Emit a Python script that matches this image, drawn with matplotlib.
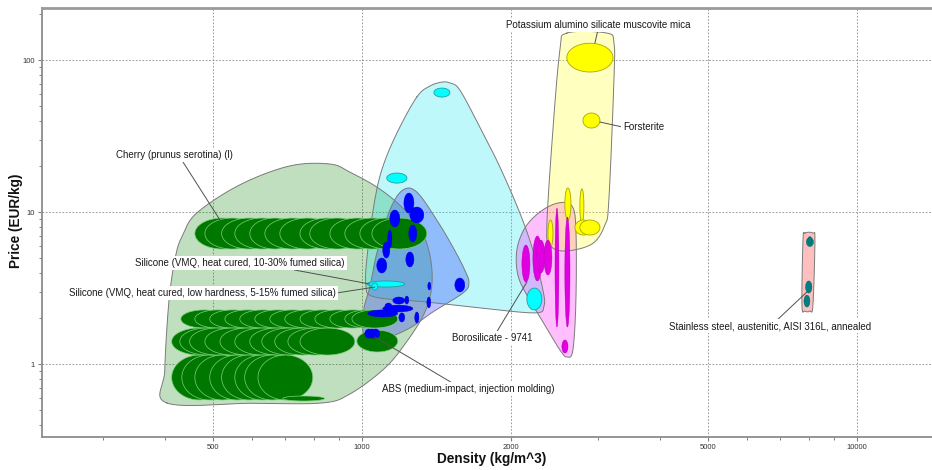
import numpy as np
import matplotlib
matplotlib.use("Agg")
import matplotlib.pyplot as plt
from matplotlib.ticker import FixedLocator, FixedFormatter, NullFormatter

plt.rcParams['font.family'] = ['Liberation Sans', 'DejaVu Sans']

# ---------------- family envelopes (density kg/m^3, price EUR/kg) ----------------
natural_env_rho = [404, 400, 408, 421, 435, 464, 567, 715, 862, 946, 1072, 1193, 1310,
                   1372, 1385, 1341, 1239, 1113, 946, 830, 600]
natural_env_p = [0.554, 0.913, 2.64, 5.21, 7.06, 9.85, 15.1, 20.1, 20.7, 18.3, 14.6, 11.1,
                 7.85, 5.21, 3.31, 2.20, 1.44, 0.94, 0.635, 0.554, 0.552]

elast_env_rho = [1291, 1372, 1451, 1506, 1577, 1731, 1900, 2085, 2215, 2321, 2332,
                 2236, 1731, 1353, 1062, 1019, 1028, 1062, 1102, 1177]
elast_env_p = [57.1, 67.4, 71.6, 70.6, 63.5, 36.2, 19.8, 9.85, 5.62, 3.07, 2.41,
               2.17, 2.34, 2.56, 2.76, 3.31, 5.62, 12.0, 19.8, 33.1]

poly_env_rho = [1014, 1009, 1038, 1072, 1139, 1210, 1291, 1417, 1527, 1614, 1645, 1600,
                1391, 1250, 1113]
poly_env_p = [1.505, 2.27, 3.21, 5.37, 10.31, 13.95, 13.54, 8.86, 5.88, 4.15, 3.41, 2.93,
              2.20, 1.725, 1.48]

glass_env_rho = [2288, 2488, 2656, 2706, 2706, 2668, 2595, 2512, 2342, 2164, 2066, 2056, 2134]
glass_env_p = [10.0, 11.46, 10.95, 7.61, 2.64, 1.236, 1.112, 1.236, 1.805, 2.76, 3.85, 5.62, 7.85]

ceram_env_rho = [2595, 3125, 3229, 3229, 3154, 3096, 2915, 2570, 2397, 2364, 2431, 2512]
ceram_env_p = [150.5, 150.5, 129.4, 73.9, 12.0, 8.21, 6.16, 5.54, 6.07, 8.21, 34.6, 116.3]

metal_env_rho = [7849, 8146, 8222, 8146, 8033, 7849, 7740, 7777]
metal_env_p = [7.27, 7.27, 6.54, 2.44, 2.23, 2.23, 2.44, 6.54]

# ---------------- material bubbles: density range, price range ----------------
natural_rho_lo = [460, 482, 521, 554, 594, 637, 683, 750, 785, 862, 924, 991, 1048,
                  431, 460, 493, 529, 567, 608, 652, 699, 750, 804, 862, 924, 955,
                  413, 429, 449, 482, 517, 554, 594, 628, 667, 709, 750, 977,
                  413, 433, 460, 493, 521, 554, 580, 617, 692]
natural_rho_hi = [594, 622, 673, 715, 750, 823, 882, 968, 1014, 1113, 1193, 1280, 1353,
                  534, 570, 611, 655, 702, 753, 807, 866, 928, 995, 1067, 1144, 1182,
                  534, 554, 580, 622, 667, 715, 767, 811, 862, 915, 968, 1182,
                  534, 559, 594, 637, 673, 715, 750, 796, 841]
natural_p_lo = [5.71] * 13 + [1.725] * 13 + [1.146] * 11 + [1.20] + [0.58] * 8 + [0.571]
natural_p_hi = [9.13] * 13 + [2.27] * 13 + [1.725] * 11 + [1.67] + [1.146] * 8 + [0.616]

poly_rho_lo = [1216, 1250, 1139, 1244, 1128, 1102, 1072, 1227, 1541, 1359, 1353, 1028,
               1155, 1102, 1221, 1188, 1279, 1113, 1014, 1033, 1047]
poly_rho_hi = [1274, 1334, 1193, 1291, 1150, 1139, 1123, 1274, 1614, 1378, 1378, 1182,
               1221, 1268, 1244, 1221, 1304, 1150, 1052, 1067, 1087]
poly_p_lo = [9.85, 8.47, 7.97, 6.35, 5.80, 4.98, 3.97, 4.35, 2.98, 3.07, 2.34, 2.04,
             2.48, 2.20, 2.48, 1.89, 1.86, 2.27, 1.48, 1.48, 1.48]
poly_p_hi = [13.33, 10.79, 10.31, 8.21, 7.61, 6.35, 4.98, 5.46, 3.68, 3.46, 2.76, 2.27,
             2.76, 2.44, 2.80, 2.17, 2.20, 2.52, 1.70, 1.70, 1.70]

elast_rho_lo = [1398, 1123, 1024, 1047, 2154]
elast_rho_hi = [1506, 1233, 1221, 1077, 2310]
elast_p_lo = [57.1, 15.5, 3.21, 3.07, 2.27]
elast_p_hi = [65.4, 18.05, 3.52, 3.41, 3.16]

glass_rho_lo = [2105, 2215, 2256, 2332, 2455, 2570, 2535]
glass_rho_hi = [2185, 2310, 2343, 2420, 2500, 2632, 2608]
glass_p_lo = [3.46, 3.52, 3.97, 3.85, 1.75, 1.75, 1.18]
glass_p_hi = [6.07, 6.95, 6.54, 6.54, 10.6, 9.27, 1.44]

ceram_rho_lo = [2594, 2796, 2570, 2756, 2693, 2756, 2376]
ceram_rho_hi = [3215, 3026, 2644, 2808, 2915, 3026, 2432]
ceram_p_lo = [83.4, 35.7, 8.86, 8.47, 7.06, 7.06, 5.89]
ceram_p_hi = [129.0, 44.8, 14.4, 14.2, 8.86, 8.86, 8.86]

metal_rho_lo = [7900, 7960, 7870, 7813]
metal_rho_hi = [8165, 8100, 8108, 8033]
metal_p_lo = [5.93, 6.2, 2.93, 2.37]
metal_p_hi = [6.8, 6.9, 3.52, 2.84]

x_major = [500, 1000, 2000, 5000, 10000]
x_minor = [300, 400, 600, 700, 800, 900, 3000, 4000, 6000, 7000, 8000, 9000]
y_major = [1, 10, 100]
y_minor = [0.4, 0.5, 0.6, 0.7, 0.8, 0.9, 2, 3, 4, 5, 6, 7, 8, 9,
           20, 30, 40, 50, 60, 70, 80, 90, 200]


def ellipse(rlo, rhi, plo, phi, n=90):
    """Ellipse spanning a density/price range, drawn in log space."""
    cx = (np.log10(rlo) + np.log10(rhi)) / 2
    rx = (np.log10(rhi) - np.log10(rlo)) / 2
    cy = (np.log10(plo) + np.log10(phi)) / 2
    ry = (np.log10(phi) - np.log10(plo)) / 2
    t = np.linspace(0, 2 * np.pi, n)
    return 10 ** (cx + rx * np.cos(t)), 10 ** (cy + ry * np.sin(t))


def smooth_closed(xs, ys, n=24):
    """Closed Catmull-Rom curve through envelope points, in log space."""
    P = np.column_stack([np.log10(xs), np.log10(ys)])
    N = len(P)
    t = np.linspace(0, 1, n, endpoint=False)[:, None]
    segs = []
    for i in range(N):
        p0, p1, p2, p3 = P[i - 1], P[i], P[(i + 1) % N], P[(i + 2) % N]
        seg = 0.5 * (2 * p1 + (-p0 + p2) * t + (2 * p0 - 5 * p1 + 4 * p2 - p3) * t ** 2
                     + (-p0 + 3 * p1 - 3 * p2 + p3) * t ** 3)
        segs.append(seg)
    arr = np.vstack(segs + [segs[0][:1]])
    return 10 ** arr[:, 0], 10 ** arr[:, 1]


fig = plt.figure(figsize=(9.32, 4.70), dpi=100)
ax = fig.add_axes([42 / 932, 33 / 470, 890 / 932, 429 / 470])
ax.set_xscale('log')
ax.set_yscale('log')
ax.set_xlim(226, 14170)
ax.set_ylim(0.331, 220)

# envelopes
envelopes = [
    (natural_env_rho, natural_env_p, (0.0, 0.5, 0.0), 0.25),
    (elast_env_rho, elast_env_p, (0.0, 0.9, 0.95), 0.25),
    (poly_env_rho, poly_env_p, (0.15, 0.2, 1.0), 0.30),
    (glass_env_rho, glass_env_p, (1.0, 0.0, 1.0), 0.25),
    (ceram_env_rho, ceram_env_p, (1.0, 1.0, 0.0), 0.25),
    (metal_env_rho, metal_env_p, (1.0, 0.1, 0.1), 0.28),
]
for i, (ex, ey, col, a) in enumerate(envelopes):
    sx, sy = smooth_closed(ex, ey)
    ax.fill(sx, sy, color=col, alpha=a, lw=0, zorder=2 + i * 0.01)
    ax.plot(sx, sy, color='#7a7a7a', lw=0.7, zorder=2.5)

# bubbles
groups = [
    (natural_rho_lo, natural_rho_hi, natural_p_lo, natural_p_hi, '#007800', '#7fcf7f', 0.5),
    (poly_rho_lo, poly_rho_hi, poly_p_lo, poly_p_hi, '#0000ff', '#0000c8', 0.3),
    (elast_rho_lo, elast_rho_hi, elast_p_lo, elast_p_hi, '#00ffff', '#2a9a9a', 0.6),
    (ceram_rho_lo, ceram_rho_hi, ceram_p_lo, ceram_p_hi, '#ffff00', '#a8a800', 0.6),
    (glass_rho_lo, glass_rho_hi, glass_p_lo, glass_p_hi, '#e000e0', '#b000b0', 0.3),
    (metal_rho_lo, metal_rho_hi, metal_p_lo, metal_p_hi, '#008080', '#006060', 0.3),
]
for k, (rl, rh, pl, ph, fc, ec, lw) in enumerate(groups):
    for a, b, c, d in zip(rl, rh, pl, ph):
        x, y = ellipse(a, b, c, d)
        ax.fill(x, y, facecolor=fc, edgecolor=ec, lw=lw, zorder=4 + k * 0.1)

# labels with leader lines
lbl = dict(fontsize=7, color='#1a1a1a', zorder=10,
           bbox=dict(boxstyle='square,pad=0.2', fc='white', ec='none'))
line = lambda rp: dict(arrowstyle='-', color='#505050', lw=0.7, relpos=rp,
                       shrinkA=0, shrinkB=0)

ax.annotate('Cherry (prunus serotina) (l)', xy=(517, 8.86), xytext=(419, 23.7),
            ha='center', va='center', arrowprops=line((0.56, 0.0)), **lbl)
ax.annotate('Silicone (VMQ, heat cured, 10-30% fumed silica)', xy=(1038, 3.36),
            xytext=(567, 4.62), ha='center', va='center',
            arrowprops=line((0.71, 0.0)), **lbl)
ax.annotate('Silicone (VMQ, heat cured, low hardness, 5-15% fumed silica)', xy=(1062, 3.21),
            xytext=(477, 2.93), ha='center', va='center',
            arrowprops=line((1.0, 0.5)), **lbl)
ax.annotate('ABS (medium-impact, injection molding)', xy=(1062, 1.505), xytext=(1637, 0.685),
            ha='center', va='center', arrowprops=line((0.42, 1.0)), **lbl)
ax.annotate('Borosilicate - 9741', xy=(2154, 3.46), xytext=(1831, 1.48),
            ha='center', va='center', arrowprops=line((0.55, 1.0)), **lbl)
ax.annotate('Potassium alumino silicate muscovite mica', xy=(2956, 129.4), xytext=(2997, 170),
            ha='center', va='center', arrowprops=line((0.5, 0.0)), **lbl)
ax.annotate('Forsterite', xy=(3026, 39.1), xytext=(3367, 36.2),
            ha='left', va='center', arrowprops=line((0.0, 0.5)), **lbl)
ax.annotate('Stainless steel, austenitic, AISI 316L, annealed', xy=(7922, 2.98),
            xytext=(6670, 1.778), ha='center', va='center',
            arrowprops=line((0.53, 1.0)), **lbl)

# axes, ticks, grid
ax.xaxis.set_major_locator(FixedLocator(x_major))
ax.xaxis.set_major_formatter(FixedFormatter([str(v) for v in x_major]))
ax.xaxis.set_minor_locator(FixedLocator(x_minor))
ax.xaxis.set_minor_formatter(NullFormatter())
ax.yaxis.set_major_locator(FixedLocator(y_major))
ax.yaxis.set_major_formatter(FixedFormatter([str(v) for v in y_major]))
ax.yaxis.set_minor_locator(FixedLocator(y_minor))
ax.yaxis.set_minor_formatter(NullFormatter())

ax.tick_params(which='major', length=3, width=0.8, color='#808080',
               labelsize=5.5, labelcolor='#333333', pad=2)
ax.tick_params(which='minor', length=2.5, width=0.7, color='#808080')
ax.grid(True, which='major', color='#8a8a8a', lw=0.6, ls=(0, (2, 2)), zorder=1)
ax.set_axisbelow(True)

for s in ['left', 'bottom']:
    ax.spines[s].set_color('#8c8c8c')
    ax.spines[s].set_linewidth(1.3)
ax.spines['top'].set_color('#9a9a9a')
ax.spines['top'].set_linewidth(2.0)
ax.spines['right'].set_visible(False)

ax.set_xlabel('Density (kg/m^3)', fontsize=9.8, fontweight='bold', color='#111111')
ax.set_ylabel('Price (EUR/kg)', fontsize=9.8, fontweight='bold', color='#111111')
ax.xaxis.set_label_coords(0.505, -0.035)
ax.yaxis.set_label_coords(-0.0213, 0.505)

fig.savefig('out.png', dpi=100)
